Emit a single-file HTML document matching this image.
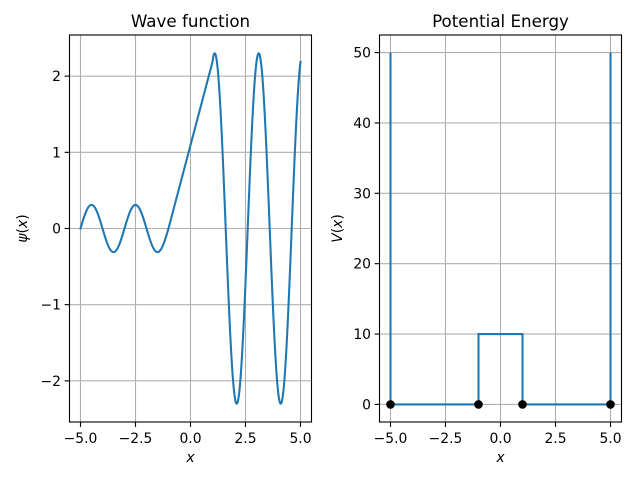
<!DOCTYPE html>
<html><head><meta charset="utf-8"><style>
body{margin:0;background:#fff}
svg{display:block;font-family:"DejaVu Sans","Liberation Sans",sans-serif}
</style></head><body>
<svg id="s" width="640" height="480" xmlns="http://www.w3.org/2000/svg"></svg>
<script>
const s=document.getElementById('s');let h='';
function ax(L,R,T,B,xl,yl,xt,yt,fmtx,fmty){
 const X=v=>L+(v-xl[0])/(xl[1]-xl[0])*(R-L), Y=v=>B-(v-yl[0])/(yl[1]-yl[0])*(B-T);
 for(const t of xt){const x=X(t);h+=`<line x1="${x}" y1="${T}" x2="${x}" y2="${B}" stroke="#b0b0b0" stroke-width="1.1"/><line x1="${x}" y1="${B}" x2="${x}" y2="${B+4.9}" stroke="#000" stroke-width="1.1"/><text x="${x}" y="${B+21}" font-size="13.9" text-anchor="middle">${fmtx(t)}</text>`;}
 for(const t of yt){const y=Y(t);h+=`<line x1="${L}" y1="${y}" x2="${R}" y2="${y}" stroke="#b0b0b0" stroke-width="1.1"/><line x1="${L-4.9}" y1="${y}" x2="${L}" y2="${y}" stroke="#000" stroke-width="1.1"/><text x="${L-8.5}" y="${y+5}" font-size="13.9" text-anchor="end">${fmty(t)}</text>`;}
 return [X,Y];
}
const fx=t=>(t<0?'\u2212':'')+Math.abs(t).toFixed(1), fy=t=>(t<0?'\u2212':'')+Math.abs(t);
let [X,Y]=ax(69.5,311.5,35,422,[-5.5,5.5],[-2.54,2.54],[-5,-2.5,0,2.5,5],[-2,-1,0,1,2],fx,fy);
function psi(x){
 if(x<=-1)return 0.31*Math.sin(Math.PI*(x+5));
 if(x>=1)return 2.3*Math.cos(Math.PI*(x-1.1));
 const p0=0,m0=1.1,p1=2.3*Math.cos(-0.1*Math.PI),m1=1.1;
 const t=(x+1)/2,t2=t*t,t3=t2*t;
 return (2*t3-3*t2+1)*p0+(t3-2*t2+t)*2*m0+(-2*t3+3*t2)*p1+(t3-t2)*2*m1;
}
let d='';for(let i=0;i<=1000;i++){const x=-5+i/100;d+=(i?'L':'M')+X(x).toFixed(2)+' '+Y(psi(x)).toFixed(2);}
h+=`<path d="${d}" fill="none" stroke="#1f77b4" stroke-width="2.08" stroke-linejoin="round" stroke-linecap="square"/>`;
h+=`<rect x="69.5" y="35" width="242" height="387" fill="none" stroke="#000" stroke-width="1.1"/>`;
h+=`<text x="190.5" y="27" font-size="16.7" text-anchor="middle">Wave function</text>`;
h+=`<text x="190.5" y="462" font-size="13.9" font-style="italic" text-anchor="middle">x</text>`;
h+=`<text transform="translate(27,228.5) rotate(-90)" font-size="13.9" text-anchor="middle"><tspan font-style="italic">ψ</tspan>(<tspan font-style="italic">x</tspan>)</text>`;
[X,Y]=ax(379.5,621.5,35,422,[-5.5,5.5],[-2.5,52.5],[-5,-2.5,0,2.5,5],[0,10,20,30,40,50],fx,fy);
const pts=[[-5,50],[-5,0],[-1,0],[-1,10],[1,10],[1,0],[5,0],[5,50]];
h+=`<path d="${pts.map((p,i)=>(i?'L':'M')+X(p[0])+' '+Y(p[1])).join('')}" fill="none" stroke="#1f77b4" stroke-width="2.08"/>`;
for(const x of [-5,-1,1,5])h+=`<circle cx="${X(x)}" cy="${Y(0)}" r="4.3" fill="#000"/>`;
h+=`<rect x="379.5" y="35" width="242" height="387" fill="none" stroke="#000" stroke-width="1.1"/>`;
h+=`<text x="500.5" y="27" font-size="16.7" text-anchor="middle">Potential Energy</text>`;
h+=`<text x="500.5" y="462" font-size="13.9" font-style="italic" text-anchor="middle">x</text>`;
h+=`<text transform="translate(342,228.5) rotate(-90)" font-size="13.9" text-anchor="middle"><tspan font-style="italic">V</tspan>(<tspan font-style="italic">x</tspan>)</text>`;
s.innerHTML=h;
</script>
</body></html>
